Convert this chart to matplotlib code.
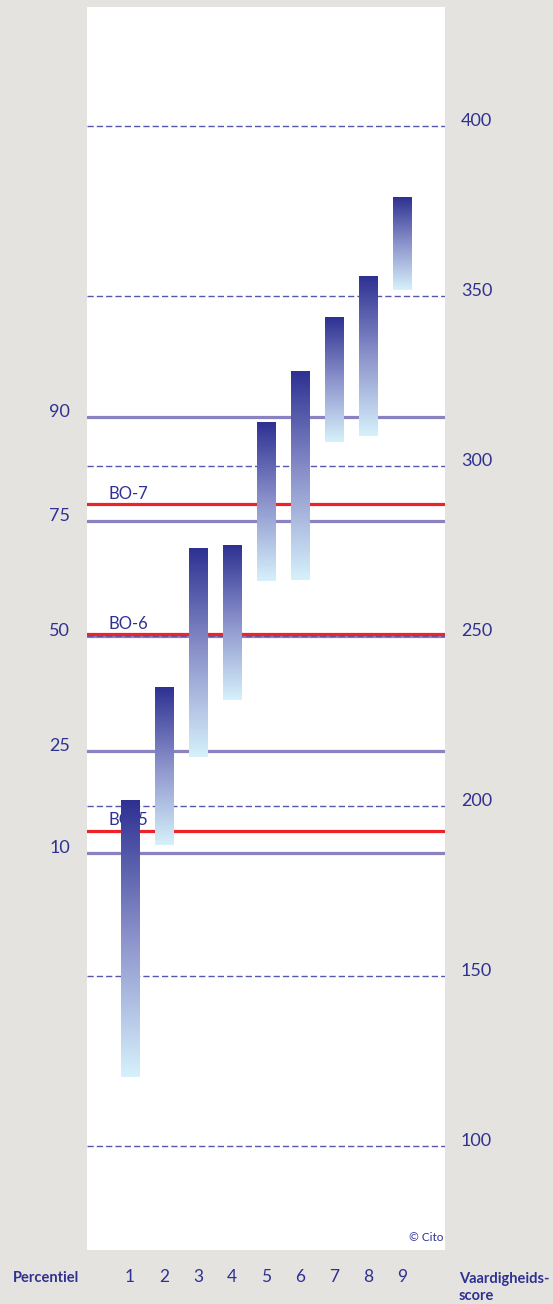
import numpy as np
import matplotlib
matplotlib.use('Agg')
import matplotlib.pyplot as plt
from matplotlib.colors import LinearSegmentedColormap

plt.rcParams['font.family'] = ['Lato', 'DejaVu Sans']

# data
categories = [1, 2, 3, 4, 5, 6, 7, 8, 9]
bar_top = [201.3, 234.6, 275.7, 276.3, 312.8, 327.5, 343.4, 355.7, 378.9]
bar_bottom = [120.1, 188.3, 214.3, 231.0, 266.1, 266.2, 306.9, 308.7, 351.6]
score_ticks = [100, 150, 200, 250, 300, 350, 400]
pct_labels = ['10', '25', '50', '75', '90']
pct_scores = [186.1, 216.0, 249.8, 283.8, 314.2]
bo_labels = ['BO-5', 'BO-6', 'BO-7']
bo_scores = [192.6, 250.4, 288.6]

navy = '#2e3192'
bg = '#e5e3df'

fig = plt.figure(figsize=(5.53, 13.04), dpi=100, facecolor=bg)
W, H = 553, 1304
ax = fig.add_axes([87 / W, (H - 1250) / H, 358 / W, (1250 - 7) / H])
ax.set_facecolor('white')

# dashed score grid
for s in score_ticks:
    ax.axhline(s, color='#5656ad', lw=1.0, dashes=(4.5, 2.2), zorder=2)

# percentile lines
for p in pct_scores:
    ax.axhline(p, color='#8a83c2', lw=2.3, zorder=1)

# BO lines + labels
for lab, s in zip(bo_labels, bo_scores):
    ax.axhline(s, color='#ee2329', lw=2.3, zorder=2.5)
    ax.text(0.37, s + 1.6, lab, color=navy, fontsize=12, ha='left', va='baseline', zorder=2.5)

# gradient bars
cmap = LinearSegmentedColormap.from_list('bar', ['#d6f1fb', '#8c93cb', '#2e3192'])
grad = np.linspace(0, 1, 256).reshape(-1, 1)
w = 0.53
for c, lo, hi in zip(categories, bar_bottom, bar_top):
    ax.imshow(grad, cmap=cmap, origin='lower', aspect='auto',
              extent=[c - w / 2, c + w / 2, lo, hi], zorder=3, interpolation='bilinear')

ax.set_xlim(1 - 43 / 34, 9 + 43 / 34)
ax.set_ylim(69.3, 434.85)

for sp in ax.spines.values():
    sp.set_visible(False)

# bottom categories
ax.set_xticks(categories)
ax.set_xticklabels([str(c) for c in categories])
ax.tick_params(axis='x', length=0, pad=14, labelsize=12.5, labelcolor=navy)

# right score axis
ax.yaxis.tick_right()
ax.set_yticks(score_ticks)
ax.set_yticklabels([str(s) for s in score_ticks])
ax.tick_params(axis='y', length=0, pad=11.5, labelsize=13, labelcolor=navy)
for t in ax.get_yticklabels():
    t.set_va('baseline')

# left percentile axis
sec = ax.secondary_yaxis('left')
sec.set_yticks(pct_scores)
sec.set_yticklabels(pct_labels)
sec.tick_params(axis='y', length=0, pad=12, labelsize=13, labelcolor=navy)
for t in sec.get_yticklabels():
    t.set_va('baseline')
for sp in sec.spines.values():
    sp.set_visible(False)

ax.text(0.995, 0.006, '\u00a9 Cito', transform=ax.transAxes, ha='right', va='bottom',
        fontsize=8.5, color=navy)

fig.text(13 / W, 1 - 1278 / H, 'Percentiel', ha='left', va='center',
         fontsize=10.5, fontweight='bold', color=navy)
fig.text(459 / W, 1 - 1287.5 / H, 'Vaardigheids-\nscore', ha='left', va='center',
         fontsize=10.5, fontweight='bold', color=navy, linespacing=1.25)

fig.savefig('out.png', dpi=100, facecolor=bg)
